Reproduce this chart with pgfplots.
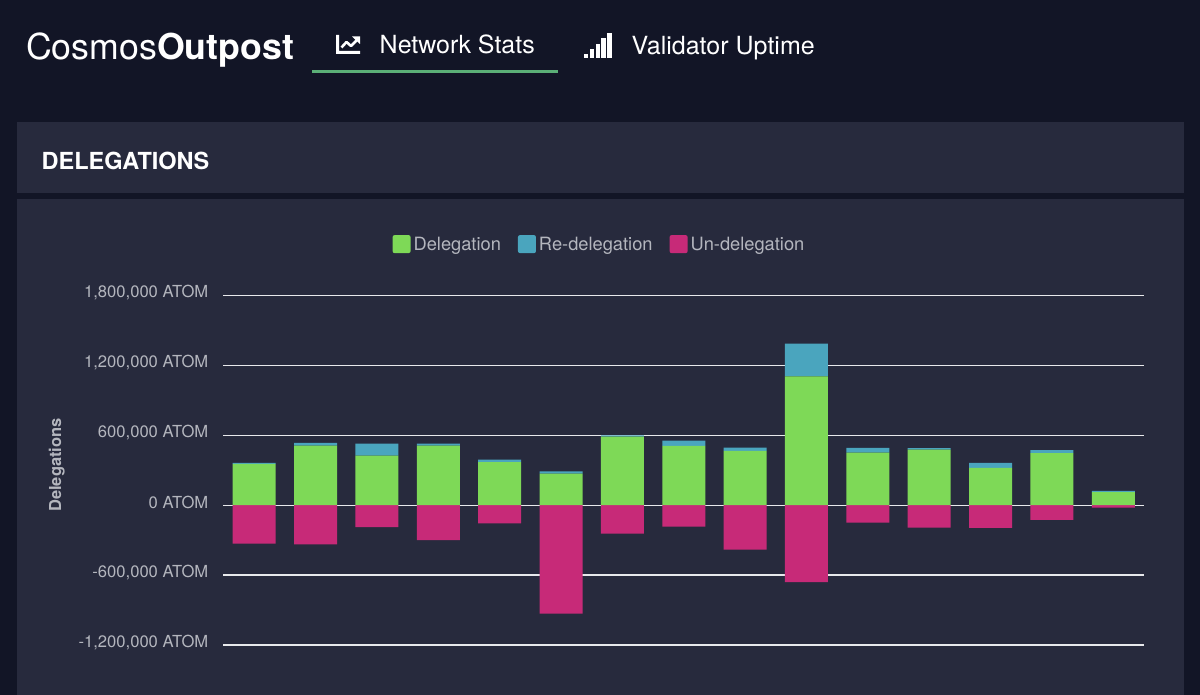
\documentclass[border=0pt]{standalone}
\usepackage{pgfplots}
\pgfplotsset{compat=1.18}
\usepackage{fontspec}
\setmainfont{TeX Gyre Heros}
\definecolor{pagebg}{HTML}{121526}
\definecolor{panel}{HTML}{272A3D}
\definecolor{deleg}{HTML}{7ED957}
\definecolor{redeleg}{HTML}{4AA5BE}
\definecolor{undeleg}{HTML}{C72A78}
\definecolor{tabline}{HTML}{5BAF77}
\definecolor{labelgrey}{HTML}{B4B6BE}
\definecolor{gridwhite}{HTML}{E8E9EC}

\begin{document}
\begin{tikzpicture}[x=1pt,y=1pt]
\clip (0,0) rectangle (1200,695);
\fill[pagebg] (0,0) rectangle (1200,695);
% panels
\fill[panel] (17,502) rectangle (1183.5,573);
\fill[panel] (17,0) rectangle (1183.5,496);
% header
\node[anchor=base west,inner sep=0,text=white,font=\fontsize{35.7}{36}\selectfont] at (26,635) {Cosmos\textbf{Outpost}};
\node[anchor=base west,inner sep=0,text=white,font=\fontsize{25}{26}\selectfont] at (379.5,641) {Network Stats};
\node[anchor=base west,inner sep=0,text=white,font=\fontsize{25}{26}\selectfont] at (631.5,640) {Validator Uptime};
\fill[tabline] (312,622) rectangle (558,625);
\node[anchor=base west,inner sep=0,text=white,font=\bfseries\fontsize{23.5}{24}\selectfont] at (41.5,525) {DELEGATIONS};
% tab icons
\fill[white] (336,660) -- (339,660) -- (339,644) -- (360,644) -- (360,641) -- (336,641) -- cycle;
\draw[white,line width=2.6pt,line join=round] (341.5,647.5) -- (346.5,653) -- (351,649) -- (358,656);
\fill[white] (352,658.5) -- (360,658.5) -- (360,651) -- cycle;
\fill[white] (583.5,637) rectangle (588,641);
\fill[white] (589.5,637) rectangle (594,646);
\fill[white] (595.5,637) rectangle (600,651);
\fill[white] (601,637) rectangle (605.5,657);
\fill[white] (607,637) rectangle (611.5,662);
\begin{axis}[
  at={(223.5pt,50pt)},
  anchor=south west,
  scale only axis,
  width=920.5pt,
  height=349.5pt,
  clip=false,
  ybar stacked,
  stack negative=separate,
  bar width=43pt,
  xmin=-0.5,
  xmax=14.5,
  ymin=-1200000,
  ymax=1800000,
  axis x line=none,
  axis y line*=left,
  y axis line style={draw=none},
  scaled y ticks=false,
  ytick={-1200000,-600000,0,600000,1200000,1800000},
  yticklabels={{-1,200,000 ATOM},{-600,000 ATOM},{0 ATOM},{600,000 ATOM},{1,200,000 ATOM},{1,800,000 ATOM}},
  major tick length=0pt,
  ymajorgrids,
  grid style={gridwhite,line width=1.3pt},
  yticklabel style={text=labelgrey,font=\fontsize{16.6}{18}\selectfont,inner sep=0pt,xshift=-15pt,yshift=2.5pt},
  ylabel={\textbf{Delegations}},
  y label style={at={(axis description cs:-0.181,0.515)},anchor=center,text=labelgrey,font=\fontsize{16.5}{17}\selectfont},
  legend columns=3,
  legend image code/.code={\fill[#1,rounded corners=2pt] (0pt,-9pt) rectangle (18pt,9pt);},
  legend style={at={(0.409,1.147)},anchor=center,draw=none,fill=none,text=labelgrey,font=\fontsize{18.3}{20}\selectfont,
    /tikz/every even column/.append style={column sep=14pt},
    nodes={inner sep=3pt}},
]
\addplot[fill=deleg,draw=none] coordinates {(0,355000)(1,511000)(2,426000)(3,511000)(4,369000)(5,271000)(6,589000)(7,509000)(8,467000)(9,1105000)(10,452000)(11,478000)(12,321000)(13,447000)(14,112000)};
\addplot[fill=redeleg,draw=none] coordinates {(0,8000)(1,23000)(2,103000)(3,18000)(4,22000)(5,20000)(6,11000)(7,45000)(8,28000)(9,281000)(10,41000)(11,12000)(12,43000)(13,26000)(14,11000)};
\addplot[fill=undeleg,draw=none] coordinates {(0,-330000)(1,-336000)(2,-189000)(3,-299000)(4,-155000)(5,-930000)(6,-244000)(7,-184000)(8,-382000)(9,-660000)(10,-149000)(11,-192000)(12,-195000)(13,-126000)(14,-20000)};
\legend{Delegation,Re-delegation,Un-delegation}
\end{axis}
\end{tikzpicture}
\end{document}
